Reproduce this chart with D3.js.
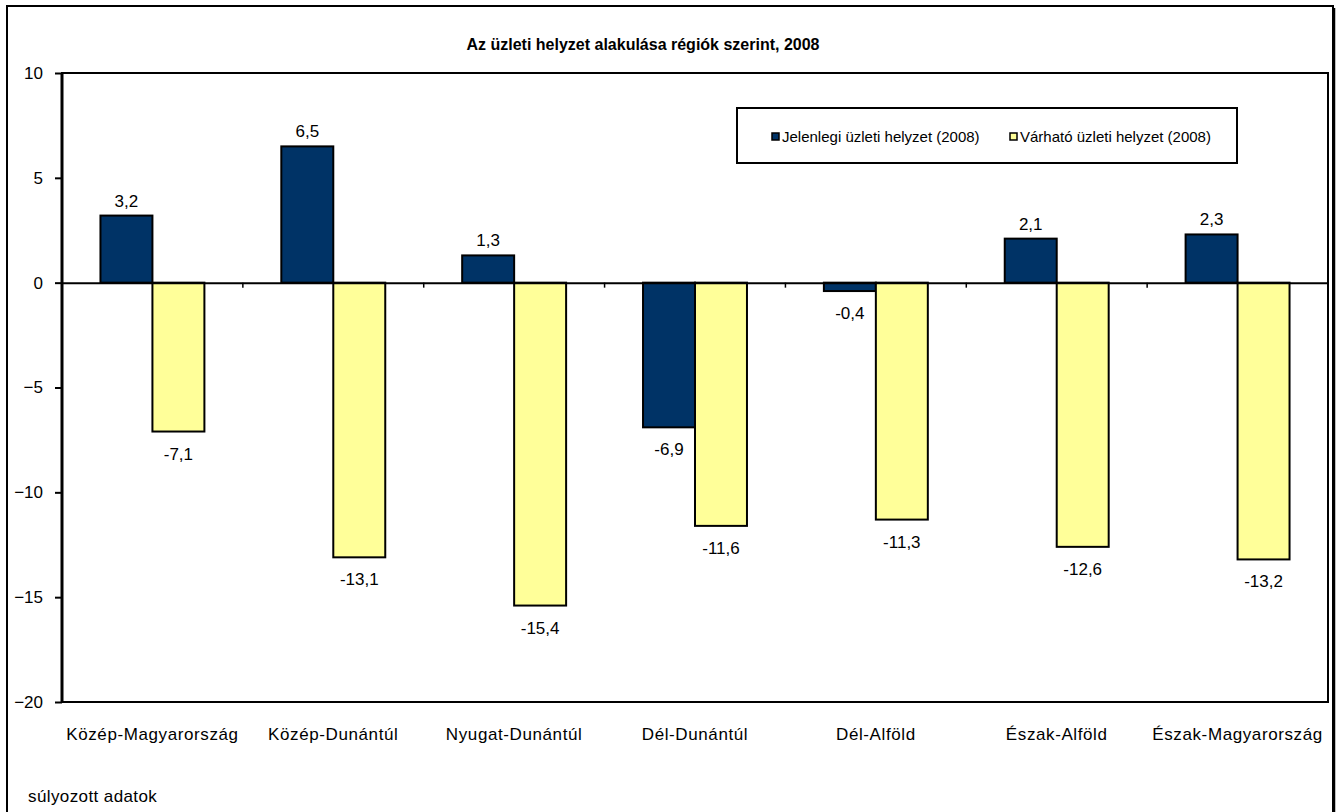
<!DOCTYPE html>
<html>
<head>
<meta charset="utf-8">
<script src="https://cdn.jsdelivr.net/npm/d3@7"></script>
<style>
  html, body { margin: 0; padding: 0; background: #fff; }
  svg { display: block; }
  text { font-family: "Liberation Sans", Arial, sans-serif; fill: #000; font-weight: normal; }
</style>
</head>
<body>
<svg id="chart" width="1337" height="812"></svg>
<script>
// ---- data ----
const categories = ["Közép-Magyarország", "Közép-Dunántúl", "Nyugat-Dunántúl", "Dél-Dunántúl", "Dél-Alföld", "Észak-Alföld", "Észak-Magyarország"];
const seriesNames = ["Jelenlegi üzleti helyzet (2008)", "Várható üzleti helyzet (2008)"];
const jelenlegi = [3.2, 6.5, 1.3, -6.9, -0.4, 2.1, 2.3];
const varhato = [-7.1, -13.1, -15.4, -11.6, -11.3, -12.6, -13.2];
const yTicks = [-20, -15, -10, -5, 0, 5, 10];
const title = "Az üzleti helyzet alakulása régiók szerint, 2008";
const note = "súlyozott adatok";
const colors = ["#003366", "#FFFF99"];

const seriesValues = [jelenlegi, varhato];

const svg = d3.select("#chart");
const plot = { left: 62, right: 1328, top: 73, bottom: 702 };

// outer frame
svg.append("rect").attr("x", 7).attr("y", 6).attr("width", 1326).attr("height", 830)
  .attr("fill", "none").attr("stroke", "#000").attr("stroke-width", 2);
svg.append("line").attr("x1", 1334.5).attr("x2", 1334.5).attr("y1", 8).attr("y2", 812)
  .attr("stroke", "#000").attr("stroke-width", 1.5);

// title
svg.append("text").attr("x", 643).attr("y", 50).attr("text-anchor", "middle")
  .style("font-size", "16px").style("font-weight", "bold").text(title);

const x0 = d3.scaleBand().domain(categories).range([plot.left, plot.right]).paddingInner(0).paddingOuter(0);
const x1 = d3.scaleBand().domain(d3.range(seriesNames.length)).range([0, x0.bandwidth()]).paddingInner(0).paddingOuter(0.74);
const y = d3.scaleLinear().domain([-20, 10]).range([plot.bottom, plot.top]);

const fmt = d3.formatLocale({ decimal: ",", thousands: " ", grouping: [3], currency: ["", ""], minus: "-" }).format(".1f");

// y axis
const yAxis = d3.axisLeft(y).tickValues(yTicks).tickSize(7).tickPadding(12).tickFormat(d3.format("d"));
const gy = svg.append("g").attr("transform", `translate(${plot.left},0)`).call(yAxis);
gy.select(".domain").remove();
gy.selectAll(".tick line").attr("stroke", "#000").attr("stroke-width", 2);
gy.selectAll(".tick text").style("font-size", "17px").attr("fill", "#000").style("font-family", "Liberation Sans, Arial, sans-serif");

// bars
const groups = svg.append("g").selectAll("g").data(categories).join("g")
  .attr("transform", d => `translate(${x0(d)},0)`);

groups.selectAll("rect")
  .data((c, i) => seriesValues.map((vals, s) => ({ s, v: vals[i] })))
  .join("rect")
  .attr("x", d => x1(d.s))
  .attr("width", x1.bandwidth())
  .attr("y", d => y(Math.max(0, d.v)))
  .attr("height", d => Math.abs(y(d.v) - y(0)))
  .attr("fill", d => colors[d.s])
  .attr("stroke", "#000").attr("stroke-width", 2);

groups.selectAll("text.val")
  .data((c, i) => seriesValues.map((vals, s) => ({ s, v: vals[i] })))
  .join("text").attr("class", "val")
  .attr("x", d => x1(d.s) + x1.bandwidth() / 2)
  .attr("y", d => d.v >= 0 ? y(d.v) - 9 : y(d.v) + 28)
  .attr("text-anchor", "middle")
  .style("font-size", "17px")
  .text(d => fmt(d.v));

// plot frame
svg.append("rect").attr("x", plot.left).attr("y", plot.top)
  .attr("width", plot.right - plot.left).attr("height", plot.bottom - plot.top)
  .attr("fill", "none").attr("stroke", "#000").attr("stroke-width", 2);
svg.append("line").attr("x1", plot.left).attr("x2", plot.left).attr("y1", plot.top).attr("y2", plot.bottom)
  .attr("stroke", "#000").attr("stroke-width", 3);

// zero axis with category ticks
const xAxis = d3.axisBottom(x0).tickSize(0).tickFormat("");
const gx = svg.append("g").attr("transform", `translate(0,${y(0)})`).call(xAxis);
gx.select(".domain").attr("stroke", "#000").attr("stroke-width", 2);
gx.selectAll(".tick").remove();
gx.selectAll("line.sep").data(categories.slice(1)).join("line").attr("class", "sep")
  .attr("x1", d => x0(d)).attr("x2", d => x0(d)).attr("y1", 0).attr("y2", 5)
  .attr("stroke", "#000").attr("stroke-width", 1.5);

// category labels
svg.append("g").selectAll("text").data(categories).join("text")
  .attr("x", d => x0(d) + x0.bandwidth() / 2).attr("y", 740)
  .attr("text-anchor", "middle").style("font-size", "17px").style("letter-spacing", "0.6px").text(d => d);

// legend
const lg = svg.append("g");
lg.append("rect").attr("x", 737).attr("y", 108).attr("width", 500).attr("height", 55)
  .attr("fill", "#fff").attr("stroke", "#000").attr("stroke-width", 2);
const legendX = [772, 1010];
seriesNames.forEach((name, i) => {
  lg.append("rect").attr("x", legendX[i]).attr("y", 133).attr("width", 7).attr("height", 7)
    .attr("fill", colors[i]).attr("stroke", "#000").attr("stroke-width", 1.5);
  lg.append("text").attr("x", legendX[i] + 10).attr("y", 142).style("font-size", "15px").text(name);
});

// note
svg.append("text").attr("x", 28).attr("y", 802).style("font-size", "17px").style("letter-spacing", "0.4px").text(note);
</script>
</body>
</html>
